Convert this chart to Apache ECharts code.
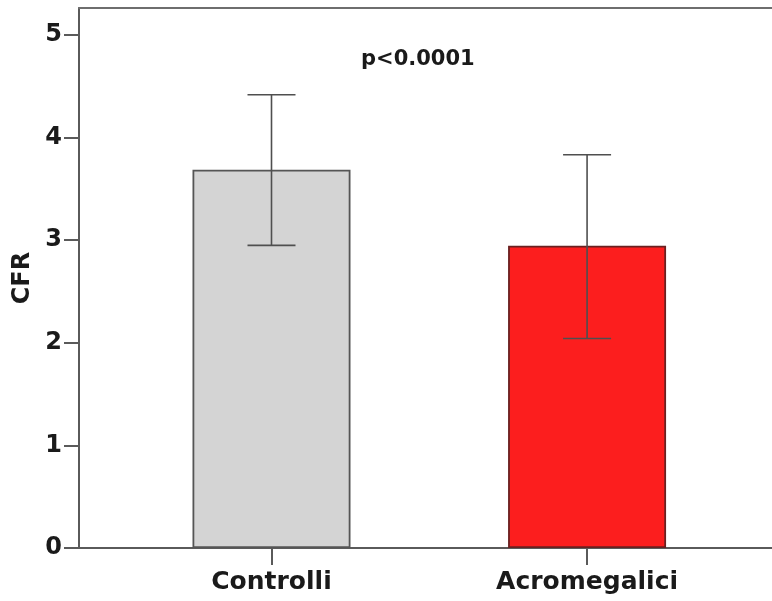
<!DOCTYPE html>
<html>
<head>
<meta charset="utf-8">
<script src="https://cdn.jsdelivr.net/npm/echarts@6/dist/echarts.min.js"></script>
<style>
  html, body { margin: 0; padding: 0; background: #fff; }
  #chart { width: 772px; height: 601px; }
</style>
</head>
<body>
<div id="chart"></div>
<script>
// CFR by group: bar = mean, whiskers = error interval
const categories = ['Controlli', 'Acromegalici'];
const cfrMean = [3.685, 2.945];
const errLow = [2.948, 2.04];
const errHigh = [4.415, 3.83];
const yTicks = [0, 1, 2, 3, 4, 5];
const pLabel = 'p<0.0001';

const barColors = ['#d4d4d4', '#fc1e1e'];
const barBorders = ['#555555', '#6a2020'];
const FONT = 'DejaVu Sans';
const AXIS_COLOR = '#5a5a5a';

const chart = echarts.init(document.getElementById('chart'), null, { renderer: 'canvas' });

const catIdx = categories.map((_, i) => i);

chart.setOption({
  animation: false,
  backgroundColor: '#ffffff',
  grid: { left: 79, top: 8, right: 0, bottom: 53 },
  xAxis: [
    {
      type: 'value',
      min: -0.61, max: 1.586,
      splitLine: { show: false },
      axisLine: { show: true, onZero: false, lineStyle: { color: AXIS_COLOR, width: 2 } },
      axisTick: { show: true, customValues: catIdx, length: 17, lineStyle: { color: AXIS_COLOR, width: 2 } },
      axisLabel: {
        customValues: catIdx,
        formatter: v => categories[Math.round(v)] || '',
        color: '#1a1a1a', fontFamily: FONT, fontWeight: 'bold', fontSize: 25, margin: 22
      }
    },
    {
      // frame line along the top of the plot
      type: 'value',
      position: 'top',
      min: -0.61, max: 1.586,
      splitLine: { show: false },
      axisLine: { show: true, onZero: false, lineStyle: { color: '#6e6e6e', width: 2 } },
      axisTick: { show: false },
      axisLabel: { show: false }
    }
  ],
  yAxis: {
    type: 'value',
    min: 0, max: 5.26,
    name: 'CFR',
    nameLocation: 'middle',
    nameGap: 56,
    nameRotate: 90,
    nameTextStyle: { color: '#1a1a1a', fontFamily: FONT, fontWeight: 'bold', fontSize: 24, verticalAlign: 'middle' },
    splitLine: { show: false },
    axisLine: { show: true, onZero: false, lineStyle: { color: AXIS_COLOR, width: 2 } },
    axisTick: { show: true, customValues: yTicks, length: 15, lineStyle: { color: AXIS_COLOR, width: 2 } },
    axisLabel: {
      customValues: yTicks,
      color: '#1a1a1a', fontFamily: FONT, fontWeight: 'bold', fontSize: 24, margin: 17
    }
  },
  series: [
    {
      type: 'bar',
      barWidth: 158,
      data: cfrMean.map((v, i) => ({
        value: [i, v],
        itemStyle: { color: barColors[i], borderColor: barBorders[i], borderWidth: 1.8 }
      })),
      z: 2
    },
    {
      type: 'custom',
      z: 3,
      data: catIdx.map(i => [i, errLow[i], errHigh[i]]),
      renderItem: (params, api) => {
        const x = api.value(0);
        const lo = api.coord([x, api.value(1)]);
        const hi = api.coord([x, api.value(2)]);
        const half = 24;
        const style = { stroke: '#4f4f4f', lineWidth: 1.6 };
        return {
          type: 'group',
          children: [
            { type: 'line', shape: { x1: hi[0], y1: hi[1], x2: lo[0], y2: lo[1] }, style },
            { type: 'line', shape: { x1: hi[0] - half, y1: hi[1], x2: hi[0] + half, y2: hi[1] }, style },
            { type: 'line', shape: { x1: lo[0] - half, y1: lo[1], x2: lo[0] + half, y2: lo[1] }, style }
          ]
        };
      }
    }
  ],
  graphic: [
    {
      type: 'text',
      left: 361, top: 49,
      style: { text: pLabel, fill: '#1a1a1a', font: 'bold 21px "DejaVu Sans"' }
    }
  ]
});
</script>
</body>
</html>
